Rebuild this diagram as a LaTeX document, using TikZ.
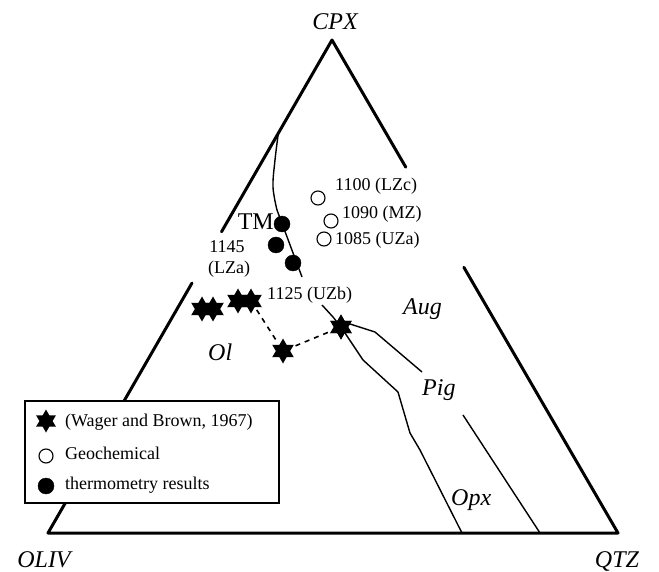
\documentclass[tikz,border=0pt]{standalone}
\usepackage{fontspec}
\setmainfont{Liberation Serif}
\usetikzlibrary{shapes.geometric,calc}
\begin{document}
\begin{tikzpicture}[x=1pt,y=-1pt,
  edge/.style={line width=3pt,line cap=round,line join=round},
  bound/.style={line width=1.4pt,line join=round},
  hexstar/.style={star,star points=6,star point ratio=1.75,fill=black,draw=none,minimum size=25pt,inner sep=0pt},
  opendot/.style={circle,draw=black,line width=1.1pt,fill=white,minimum size=14pt,inner sep=0pt},
  filldot/.style={circle,fill=black,draw=black,minimum size=16pt,inner sep=0pt},
  small/.style={font=\fontsize{18}{20}\selectfont,inner sep=0pt},
  big/.style={font=\fontsize{24}{26}\selectfont\itshape,inner sep=0pt},
  dashline/.style={line width=1.6pt,dash pattern=on 5pt off 5pt}]
\useasboundingbox (0,0) rectangle (659,572);
% vertices
\coordinate (cpx) at (332,40);
\coordinate (ol) at (48,533);
\coordinate (qz) at (618,533);
% triangle edges (with gaps)
\draw[edge] (cpx) -- ($(cpx)!0.389!(ol)$);
\draw[edge] ($(cpx)!0.493!(ol)$) -- (ol) -- (qz) -- ($(qz)!0.539!(cpx)$);
\draw[edge] (cpx) -- ($(cpx)!0.258!(qz)$);
% boundary curves
\coordinate (b0) at ($(cpx)!0.189!(ol)$);
\draw[bound] plot[smooth,tension=0.6] coordinates {(b0) (275,160) (273,187) (277,210)} -- (302,277);
\node[hexstar] (s6) at (341,327) {};
\draw[bound] (322,305) -- (333,317) -- (s6.center);
\draw[bound] (s6.center) -- (350,324) -- (375,332) -- (422,372);
\draw[bound] (463,415) -- (540,533);
\draw[bound] (s6.center) -- (363,360) -- (398,392) -- (410,433) -- (420,450) -- (462,533);
% stars
\node[hexstar] (s1) at (202,309) {};
\node[hexstar] (s2) at (213,309) {};
\node[hexstar] (s3) at (238,301) {};
\node[hexstar] (s4) at (251,301) {};
\node[hexstar] (s5) at (283,351) {};
\node[hexstar] at (341,327) {};
\draw[dashline,shorten <=3pt,shorten >=3pt] (s4) -- (s5);
\draw[dashline,shorten <=3pt,shorten >=3pt] (s5) -- (s6);
% filled circles
\node[filldot] (f1) at (282,224) {};
\node[filldot] (f2) at (276,245) {};
\node[filldot] (f3) at (293,263) {};
% open circles
\node[opendot] (o1) at (318,198) {};
\node[opendot] (o2) at (331,221) {};
\node[opendot] (o3) at (324,239) {};
% labels
\node[big,anchor=base] (lcpx) at (335,30) {CPX};
\node[big,anchor=base] (loliv) at (44,567) {OLIV};
\node[big,anchor=base] (lqtz) at (617,567) {QTZ};
\node[font=\fontsize{24}{26}\selectfont,inner sep=0pt,anchor=base east] (ltm) at (274,230) {TM};
\node[small,anchor=base] (l1145) at (227,253) {1145};
\node[small,anchor=base] (llza) at (229,273) {(LZa)};
\node[small,anchor=base west] (l1100) at (335,191) {1100 (LZc)};
\node[small,anchor=base west] (l1090) at (342,219) {1090 (MZ)};
\node[small,anchor=base west] (l1085) at (335,245) {1085 (UZa)};
\node[small,anchor=base west] (l1125) at (267,299) {1125 (UZb)};
\node[big,anchor=base west] (laug) at (403,314) {Aug};
\node[big,anchor=base west] (lpig) at (422,395) {Pig};
\node[big,anchor=base west] (lopx) at (451,505) {Opx};
\node[big,anchor=base west] (lol) at (208,360) {Ol};
% legend
\draw[line width=1.2pt,fill=white] (25,401) rectangle (279,503);
\node[hexstar,minimum size=23pt] (k1) at (46,421) {};
\node[opendot] (k2) at (46,456) {};
\node[filldot] (k3) at (46,486) {};
\node[small,anchor=base west] (t1) at (65,426) {(Wager and Brown, 1967)};
\node[small,anchor=base west] (t2) at (65,459) {Geochemical};
\node[small,anchor=base west] (t3) at (65,489) {thermometry results};
\end{tikzpicture}
\end{document}
